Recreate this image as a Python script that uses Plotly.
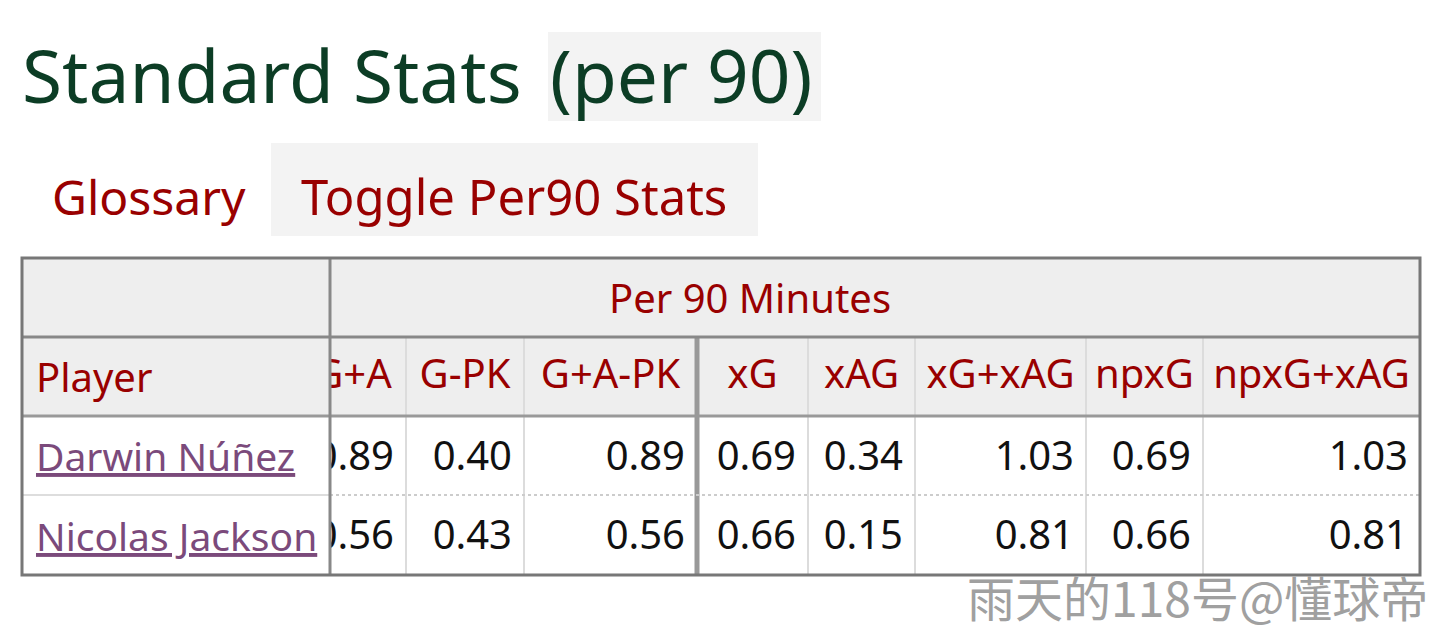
import plotly.graph_objects as go

# table content
columns = ["G+A", "G-PK", "G+A-PK", "xG", "xAG", "xG+xAG", "npxG", "npxG+xAG"]
players = ["Darwin Núñez", "Nicolas Jackson"]
ga = [0.89, 0.56]
g_pk = [0.40, 0.43]
ga_pk = [0.89, 0.56]
xg = [0.69, 0.66]
xag = [0.34, 0.15]
xg_xag = [1.03, 0.81]
npxg = [0.69, 0.66]
npxg_xag = [1.03, 0.81]
values = [ga, g_pk, ga_pk, xg, xag, xg_xag, npxg, npxg_xag]

title = "Standard Stats"
title_extra = "(per 90)"
group_label = "Per 90 Minutes"
buttons = ["Glossary", "Toggle Per90 Stats"]
watermark = "雨天的118号@懂球帝"

# layout in page pixels (page body has an 8px margin, so axes start at 8)
W, H = 1440, 633
PAD = 8
FONT = "Noto Sans"
GREEN = "#0c3d25"
RED = "#990000"
PURPLE = "#7b4a7b"
GREY_BG = "#eeeeee"

left, right = 22, 1420
player_right = 330
col_edges = [300, 406, 524, 697, 808, 915, 1086, 1203, 1420]
row_edges = [258, 337, 416, 495, 575]

shapes = []


def rect(x0, y0, x1, y1, fill, layer="below", line=None):
    shapes.append(dict(type="rect", xref="x", yref="y", x0=x0, y0=y0, x1=x1, y1=y1,
                       fillcolor=fill, line=line or dict(width=0), layer=layer))


def hline(x0, x1, y, color, width, dash="solid", layer="below"):
    shapes.append(dict(type="line", xref="x", yref="y", x0=x0, x1=x1, y0=y, y1=y,
                       line=dict(color=color, width=width, dash=dash), layer=layer))


def vline(x, y0, y1, color, width, layer="below"):
    shapes.append(dict(type="line", xref="x", yref="y", x0=x, x1=x, y0=y0, y1=y1,
                       line=dict(color=color, width=width), layer=layer))


# title / button backgrounds
rect(548, 32, 821, 121, "#f3f3f3")
rect(271, 143, 758, 236, "#f3f3f3")

# header backgrounds
rect(left, row_edges[0], right, row_edges[2], GREY_BG)

# column separators (light)
for x in col_edges[1:-1]:
    if x == 697:
        continue
    vline(x, row_edges[1], row_edges[4], "#dcdcdc", 2)
# thick group separator
vline(697, row_edges[1], row_edges[4], "#999999", 5)

# row separators
hline(left, right, row_edges[1], "#888888", 3)
hline(left, right, row_edges[2], "#999999", 3)
hline(player_right, right, row_edges[3], "#cccccc", 2, dash="dot")

# frozen player column drawn over the scrolled cells
rect(left, row_edges[0], player_right, row_edges[2], GREY_BG, layer="above")
rect(left, row_edges[2], player_right, row_edges[4], "white", layer="above")
hline(left, player_right, row_edges[1], "#888888", 3, layer="above")
hline(left, player_right, row_edges[2], "#999999", 3, layer="above")
hline(left, player_right, row_edges[3], "#dddddd", 2, layer="above")
vline(player_right, row_edges[0], row_edges[4], "#888888", 3, layer="above")

# outer border
shapes.append(dict(type="rect", xref="x", yref="y", x0=left, y0=row_edges[0], x1=right,
                   y1=row_edges[4], line=dict(color="#777777", width=3), layer="above"))

fig = go.Figure()

# header labels, centred in their columns
hx = [(col_edges[i] + col_edges[i + 1]) / 2 for i in range(len(columns))]
hy = [(row_edges[1] + row_edges[2]) / 2 + 1] * len(columns)
fig.add_trace(go.Scatter(x=hx, y=hy, text=columns, mode="text", textposition="middle center",
                         textfont=dict(family=FONT, size=40, color=RED), cliponaxis=False,
                         hoverinfo="skip"))

# numbers, right aligned
for r in range(len(players)):
    vx = [col_edges[i + 1] - 12 for i in range(len(columns))]
    vy = [(row_edges[r + 2] + row_edges[r + 3]) / 2 + 4] * len(columns)
    vt = ["%.2f" % v[r] for v in values]
    fig.add_trace(go.Scatter(x=vx, y=vy, text=vt, mode="text", textposition="middle left",
                             textfont=dict(family=FONT, size=40, color="#111111"),
                             cliponaxis=False, hoverinfo="skip"))

annotations = [
    dict(x=20, y=74, text=title, xanchor="left", yanchor="middle", showarrow=False,
         font=dict(family=FONT, size=73, color=GREEN)),
    dict(x=548, y=74, text=title_extra, xanchor="left", yanchor="middle", showarrow=False,
         font=dict(family=FONT, size=73, color=GREEN)),
    dict(x=50, y=196, text=buttons[0], xanchor="left", yanchor="middle", showarrow=False,
         font=dict(family=FONT, size=48, color=RED)),
    dict(x=299, y=196, text=buttons[1], xanchor="left", yanchor="middle", showarrow=False,
         font=dict(family=FONT, size=49, color=RED)),
    dict(x=750, y=(row_edges[0] + row_edges[1]) / 2, text=group_label,
         xanchor="center", yanchor="middle", showarrow=False,
         font=dict(family=FONT, size=40, color=RED)),
    dict(x=34, y=(row_edges[1] + row_edges[2]) / 2, text="Player", xanchor="left",
         yanchor="middle", showarrow=False, font=dict(family=FONT, size=40, color=RED)),
    dict(x=1430, y=596, text=watermark, xanchor="right", yanchor="middle", showarrow=False,
         font=dict(family="Noto Sans CJK SC", size=48, color="#a0a0a0")),
]
for r, name in enumerate(players):
    annotations.append(dict(x=34, y=(row_edges[r + 2] + row_edges[r + 3]) / 2,
                            text="<u>%s</u>" % name, xanchor="left", yanchor="middle",
                            showarrow=False, font=dict(family=FONT, size=39, color=PURPLE)))

fig.update_layout(
    width=W - PAD, height=H - PAD, margin=dict(l=0, r=0, t=0, b=0),
    paper_bgcolor="white", plot_bgcolor="white", showlegend=False,
    xaxis=dict(range=[PAD, W], visible=False, fixedrange=True),
    yaxis=dict(range=[H, PAD], visible=False, fixedrange=True),
    shapes=shapes, annotations=annotations,
)

fig.write_html("out.html")
